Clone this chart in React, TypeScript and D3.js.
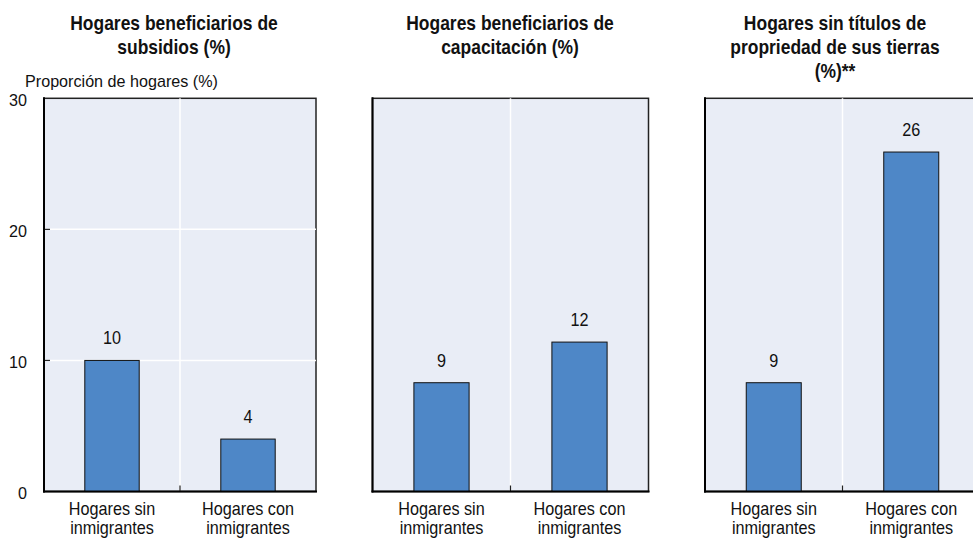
import React from "react";
import * as d3 from "d3";

const categories = [["Hogares sin", "inmigrantes"], ["Hogares con", "inmigrantes"]];
const panelTitles = [
  ["Hogares beneficiarios de", "subsidios (%)"],
  ["Hogares beneficiarios de", "capacitación (%)"],
  ["Hogares sin títulos de", "propriedad de sus tierras", "(%)**"],
];
const subsidios = [10, 4];
const capacitacion = [8.3, 11.4];
const sinTitulos = [8.3, 25.9];
const subsidiosLabels = ["10", "4"];
const capacitacionLabels = ["9", "12"];
const sinTitulosLabels = ["9", "26"];
const yTicks = [0, 10, 20, 30];
const yAxisTitle = "Proporción de hogares (%)";

const W = 973;
const H = 539;
const FONT = "'Liberation Sans', Arial, sans-serif";

const panelX = [
  [44, 316],
  [372.5, 648.5],
  [705, 980],
];
const titleCx = [174, 510, 835];
const top = 98.3;
const bottom = 491.5;

const seriesList = [subsidios, capacitacion, sinTitulos];
const labelList = [subsidiosLabels, capacitacionLabels, sinTitulosLabels];

function T(props: {
  x: number;
  y: number;
  size: number;
  sx?: number;
  anchor?: string;
  bold?: boolean;
  children: React.ReactNode;
}) {
  const sx = props.sx ?? 0.9;
  return (
    <text
      transform={`translate(${props.x},${props.y}) scale(${sx},1)`}
      textAnchor={props.anchor ?? "middle"}
      fontSize={props.size}
      fontWeight={props.bold ? "bold" : "normal"}
      fill="#111"
    >
      {props.children}
    </text>
  );
}

export default function App() {
  const y = d3.scaleLinear().domain([0, 30]).range([bottom, top]);
  return (
    <svg
      width={W}
      height={H}
      style={{ position: "absolute", left: 0, top: 0, background: "#fff" }}
      fontFamily={FONT}
    >
      {panelX.map(([x0, x1], pi) => {
        const x = d3
          .scaleBand<number>()
          .domain(categories.map((_, i) => i))
          .range([x0, x1])
          .paddingInner(0)
          .paddingOuter(0);
        const bw = x.bandwidth();
        const barW = bw * 0.4;
        const mid = (x0 + x1) / 2;
        const vals = seriesList[pi];
        const labs = labelList[pi];
        return (
          <g key={pi}>
            {panelTitles[pi].map((t, li) => (
              <T key={li} x={titleCx[pi]} y={29.5 + li * 24} size={19.5} sx={0.895} bold>
                {t}
              </T>
            ))}
            <rect x={x0} y={top} width={x1 - x0} height={bottom - top} fill="#e9edf6" stroke="#222" strokeWidth={1.5} />
            {pi === 0 &&
              yTicks.slice(1, -1).map((t) => (
                <g key={t}>
                  <line x1={x0} x2={x1} y1={y(t)} y2={y(t)} stroke="#fff" strokeWidth={1.5} />
                  <line x1={x0} x2={x0 + 6} y1={y(t)} y2={y(t)} stroke="#222" strokeWidth={1.2} />
                </g>
              ))}
            <line x1={mid} x2={mid} y1={top} y2={bottom} stroke="#fff" strokeWidth={1.5} />
            <line x1={mid} x2={mid} y1={bottom} y2={bottom - 6} stroke="#222" strokeWidth={1.2} />
            {vals.map((v, i) => {
              const cx = (x(i) as number) + bw / 2;
              return (
                <g key={i}>
                  <rect
                    x={cx - barW / 2}
                    y={y(v)}
                    width={barW}
                    height={bottom - y(v)}
                    fill="#4e87c7"
                    stroke="#111"
                    strokeWidth={1}
                  />
                  <T x={cx} y={y(v) - 16} size={18}>
                    {labs[i]}
                  </T>
                  {categories[i].map((line, li) => (
                    <T key={li} x={cx} y={515 + li * 18.5} size={18}>
                      {line}
                    </T>
                  ))}
                </g>
              );
            })}
            <line x1={x0} x2={x0} y1={top - 1} y2={bottom + 1} stroke="#000" strokeWidth={2} />
            <line x1={x0 - 1} x2={x1 + 1} y1={bottom} y2={bottom} stroke="#000" strokeWidth={2} />
          </g>
        );
      })}
      {yTicks.map((t) => (
        <T key={t} x={27} y={y(t) + 7.5} size={17} sx={0.95} anchor="end">
          {t}
        </T>
      ))}
      <T x={25} y={87} size={17} sx={0.95} anchor="start">
        {yAxisTitle}
      </T>
    </svg>
  );
}
